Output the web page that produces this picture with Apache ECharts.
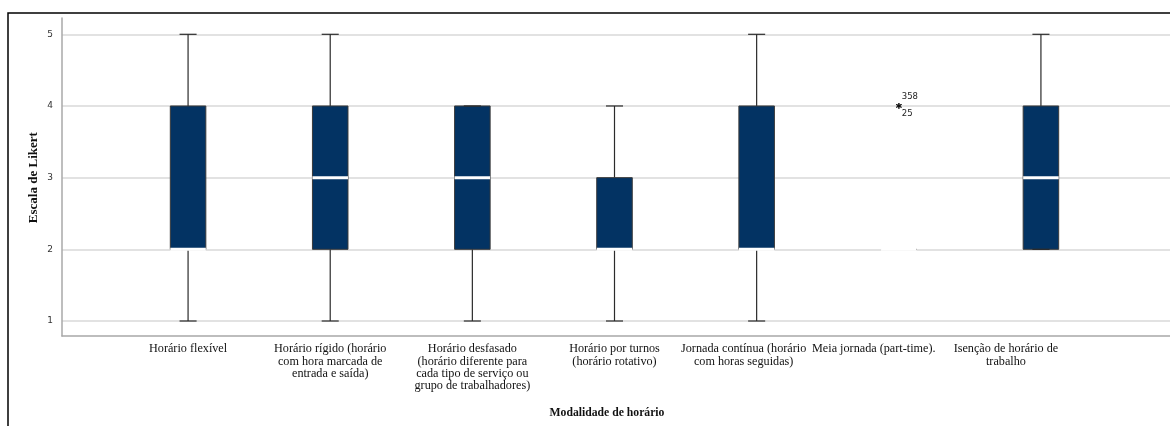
<!DOCTYPE html>
<html>
<head>
<meta charset="utf-8">
<script src="https://cdn.jsdelivr.net/npm/echarts@6/dist/echarts.min.js"></script>
<style>
html, body { margin: 0; padding: 0; background: #fff; }
#chart { width: 1170px; height: 426px; }
</style>
</head>
<body>
<div id="chart"></div>
<script>
// modalidades de horário
var categories = [
	'Horário flexível',
	'Horário rígido (horário\ncom hora marcada de\nentrada e saída)',
	'Horário desfasado\n(horário diferente para\ncada tipo de serviço ou\ngrupo de trabalhadores)',
	'Horário por turnos\n(horário rotativo)',
	'Jornada contínua (horário\ncom horas seguidas)',
	'Meia jornada (part-time).',
	'Isenção de horário de\ntrabalho'
];
// estatísticas das caixas (escala de Likert)
var whiskerLow  = [1, 1, 1, 1, 1, 2, 2];
var quartile1   = [2, 2, 2, 2, 2, 2, 2];
var medians     = [2, 3, 3, 2, 2, 2, 3];
var quartile3   = [4, 4, 4, 3, 4, 2, 4];
var whiskerHigh = [5, 5, 4, 4, 5, 2, 5];
// outliers extremos (*)
var outlierCategory = [5, 5];
var outlierValue = [4, 4];
var outlierCase = ['358', '25'];
var likertTicks = [1, 2, 3, 4, 5];

// deslocamento dos rótulos (como no original)
var labelShift = [0, 0, 0, 0, 26, 50, 70];

var boxData = categories.map(function (c, i) {
	return [i, whiskerLow[i], quartile1[i], medians[i], quartile3[i], whiskerHigh[i]];
});
var outlierData = outlierValue.map(function (v, i) {
	return [outlierCategory[i], v, outlierCase[i]];
});
var catData = categories.map(function (c, i) {
	return { value: c, textStyle: { padding: [0, labelShift[i], 0, 0] } };
});

function renderBox(params, api) {
	var i = api.value(0);
	var pLow = api.coord([i, api.value(1)]);
	var pQ1 = api.coord([i, api.value(2)]);
	var pMed = api.coord([i, api.value(3)]);
	var pQ3 = api.coord([i, api.value(4)]);
	var pHigh = api.coord([i, api.value(5)]);
	var band = api.size([1, 0])[0];
	var half = band * 0.125;
	var cap = band * 0.06;
	var x = pMed[0];
	var line = { stroke: '#2b2b2b', lineWidth: 1.2 };
	var kids = [];
	kids.push({ type: 'line', shape: { x1: x, y1: pLow[1], x2: x, y2: pQ1[1] }, style: line });
	kids.push({ type: 'line', shape: { x1: x, y1: pQ3[1], x2: x, y2: pHigh[1] }, style: line });
	kids.push({
		type: 'rect',
		shape: { x: x - half, y: pQ3[1], width: half * 2, height: pQ1[1] - pQ3[1] },
		style: { fill: '#033363', stroke: '#3a3a3a', lineWidth: 1 }
	});
	kids.push({ type: 'line', shape: { x1: x - cap, y1: pLow[1], x2: x + cap, y2: pLow[1] }, style: line });
	kids.push({ type: 'line', shape: { x1: x - cap, y1: pHigh[1], x2: x + cap, y2: pHigh[1] }, style: line });
	kids.push({
		type: 'line',
		shape: { x1: x - half, y1: pMed[1], x2: x + half, y2: pMed[1] },
		style: { stroke: '#ffffff', lineWidth: 3 }
	});
	return { type: 'group', children: kids };
}

function renderOutlier(params, api) {
	var p = api.coord([api.value(0), api.value(1)]);
	var up = params.dataIndex % 2 === 0;
	return {
		type: 'group',
		children: [
			{ type: 'text', style: { text: '*', x: p[0], y: p[1] + 3, fill: '#111', font: 'bold 12px "DejaVu Sans"', align: 'center', verticalAlign: 'middle' } },
			{ type: 'text', style: { text: outlierData[params.dataIndex][2], x: p[0] + 3, y: up ? p[1] - 9 : p[1] + 8, fill: '#222', font: '8.5px "DejaVu Sans"', align: 'left', verticalAlign: 'middle' } }
		]
	};
}

var chart = echarts.init(document.getElementById('chart'));
var option = {
	animation: false,
	graphic: [{
		type: 'rect',
		shape: { x: 8, y: 13, width: 1200, height: 440 },
		style: { fill: 'none', stroke: '#000', lineWidth: 1.5 },
		z: 10
	}],
	grid: [
		{ left: 117, right: 58, top: 34.3, bottom: 105 },
		{ left: 62, right: 0, top: 34.3, bottom: 105 },
		{ left: 62, right: 0, top: 18, bottom: 90 }
	],
	xAxis: [
		{
			gridIndex: 0, type: 'category', data: catData, offset: 15,
			axisLine: { show: false }, axisTick: { show: false },
			axisLabel: { interval: 0, margin: 7, fontFamily: 'Liberation Serif', fontSize: 12.2, lineHeight: 12.3, color: '#111' }
		},
		{ gridIndex: 1, type: 'value', min: 0, max: 1, show: false },
		{
			gridIndex: 2, type: 'value', min: 0, max: 1,
			axisLine: { show: true, lineStyle: { color: '#a8a8a8', width: 1.5 } },
			axisTick: { show: false }, axisLabel: { show: false }, splitLine: { show: false },
			name: 'Modalidade de horário', nameLocation: 'middle', nameGap: 71,
			nameTextStyle: { fontFamily: 'Liberation Serif', fontWeight: 'bold', fontSize: 11.7, color: '#111', padding: [0, 18, 0, 0] }
		}
	],
	yAxis: [
		{ gridIndex: 0, type: 'value', min: 1, max: 5, show: false },
		{
			gridIndex: 1, type: 'value', min: likertTicks[0], max: likertTicks[likertTicks.length - 1], interval: 1,
			axisLine: { show: false }, axisTick: { show: false },
			axisLabel: { margin: 9, fontFamily: 'DejaVu Sans', fontSize: 9, color: '#333' },
			splitLine: { lineStyle: { color: '#d9d9d9', width: 1.5 } },
			name: 'Escala de Likert', nameLocation: 'middle', nameGap: 22, nameMoveOverlap: false,
			nameTextStyle: { fontFamily: 'Liberation Serif', fontWeight: 'bold', fontSize: 13, color: '#111' }
		},
		{
			gridIndex: 2, type: 'value', min: 0, max: 1,
			axisLine: { show: true, lineStyle: { color: '#a8a8a8', width: 1.5 } },
			axisTick: { show: false }, axisLabel: { show: false }, splitLine: { show: false }
		}
	],
	series: [
		{
			type: 'custom', xAxisIndex: 0, yAxisIndex: 0,
			renderItem: renderBox,
			encode: { x: 0, y: [1, 2, 3, 4, 5] },
			data: boxData
		},
		{
			type: 'custom', xAxisIndex: 0, yAxisIndex: 0,
			renderItem: renderOutlier,
			encode: { x: 0, y: 1 },
			data: outlierData
		}
	]
};
chart.setOption(option);
</script>
</body>
</html>
